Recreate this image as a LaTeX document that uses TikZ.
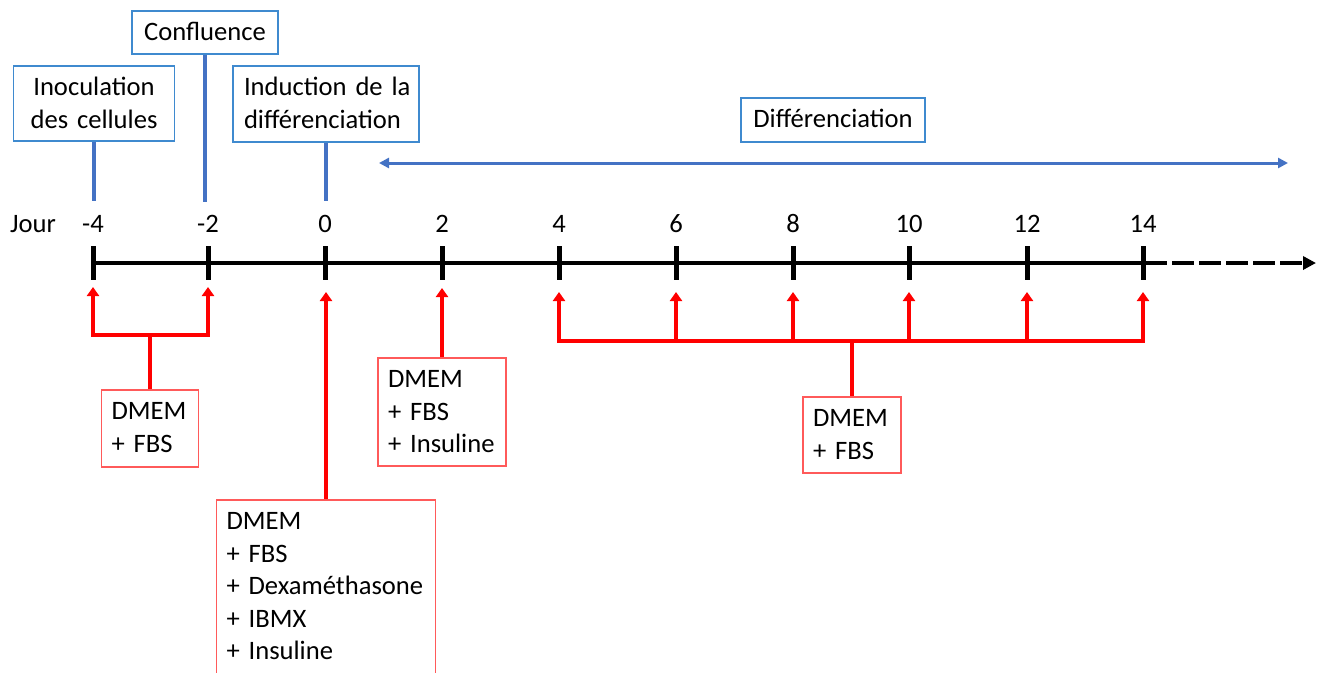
\documentclass[tikz,border=0pt]{standalone}
\usepackage{fontspec}
\setmainfont{Carlito}
\usetikzlibrary{arrows.meta}
\definecolor{stemblue}{HTML}{4472C4}
\definecolor{frameblue}{HTML}{3F8ACF}
\definecolor{framered}{HTML}{FF5A5A}
\definecolor{mediared}{HTML}{FF0000}

\begin{document}
\begin{tikzpicture}[x=1pt,y=-1pt,
  every node/.style={font=\fontsize{26.6}{32.5}\selectfont},
  stagebox/.style={draw=frameblue, line width=1.5pt, anchor=north, inner xsep=0pt,
    inner ysep=0pt, text height=30pt, align=center, fill=white},
  mediabox/.style={draw=framered, line width=1.5pt, anchor=north, inner xsep=10pt,
    inner ysep=0pt, text height=30pt, align=left, fill=white},
  stemline/.style={draw=stemblue, line width=4pt},
  spanline/.style={draw=stemblue, line width=3pt,
    {Triangle[width=10pt,length=10pt]}-{Triangle[width=10pt,length=10pt]}},
  axisline/.style={draw=black, line width=4.5pt},
  tickmark/.style={draw=black, line width=5pt},
  feedline/.style={draw=mediared, line width=3.5pt, line join=miter},
  feedarrow/.style={feedline, -{Triangle[width=12pt,length=9pt]}},
  daylabel/.style={anchor=base, inner sep=0pt}
]
\useasboundingbox (0,0) rectangle (1327,672);

% ---- time axis ----
\coordinate (axstart) at (91,263);
\coordinate (axsolid) at (1167,263);
\coordinate (axdash) at (1172,263);
\coordinate (axend) at (1316,263);
\draw[axisline] (axstart) -- (axsolid);
\draw[axisline, dash pattern=on 22pt off 5pt,
  -{Triangle[width=13pt,length=13pt]}] (axdash) -- (axend);

\node[anchor=base west, inner sep=0pt] (jour) at (10,232) {Jour};
\foreach \d/\x in {-4/93,-2/208,0/325,2/442,4/559,6/676,8/793,10/909,12/1027,14/1143}{
  \coordinate (t\d) at (\x,263);
  \coordinate (tt\d) at (\x,246);
  \coordinate (tb\d) at (\x,280);
  \draw[tickmark] (tt\d) -- (tb\d);
  \node[daylabel] (d\d) at (\x,232) {\d};
}

% ---- stages (blue) ----
\node[stagebox, text width=161pt, text depth=45pt] (inoc) at (94,65)
  {Inoculation\\des cellules};
\node[stagebox, text width=146pt, text depth=13pt] (conf) at (205,10) {Confluence};
\node[stagebox, inner xsep=11pt, align=left, text width=164pt, text depth=46pt] (induc)
  at (326,65) {\mbox{Induction de la}\\\mbox{différenciation}};
\node[stagebox, text width=184pt, text depth=14pt] (diff) at (833,97) {Différenciation};

\coordinate (s-4) at (94,201);
\coordinate (s-2) at (205,202);
\coordinate (s0) at (326,201);
\draw[stemline] (inoc.south) -- (s-4);
\draw[stemline] (conf.south) -- (s-2);
\draw[stemline] (induc.south) -- (s0);

\coordinate (spanl) at (379,163);
\coordinate (spanr) at (1288,163);
\draw[spanline] (spanl) -- (spanr);

% ---- culture media (red) ----
\node[mediabox, text width=77pt, text depth=47pt] (m1) at (150,389) {DMEM\\+ FBS};
\node[mediabox, text width=199pt, text depth=160pt] (m0) at (326,499)
  {DMEM\\+ FBS\\+ Dexaméthasone\\+ IBMX\\+ Insuline};
\node[mediabox, text width=108pt, text depth=78pt] (m2) at (442,357)
  {DMEM\\+ FBS\\+ Insuline};
\node[mediabox, text width=78pt, text depth=46pt] (m3) at (852,396) {DMEM\\+ FBS};

% days -4 and -2
\coordinate (a-4) at (93,287);
\coordinate (a-2) at (208,287);
\coordinate (j1) at (150,335);
\draw[feedline] (m1.north) -- (j1);
\draw[feedarrow] (j1) -| (a-4);
\draw[feedarrow] (j1) -| (a-2);

% day 0
\coordinate (a0) at (326,292);
\draw[feedarrow] (m0.north) -- (a0);

% day 2
\coordinate (a2) at (442,288);
\draw[feedarrow] (m2.north) -- (a2);

% days 4 to 14
\coordinate (j3) at (852,341);
\draw[feedline] (m3.north) -- (j3);
\foreach \d/\x in {4/559,6/676,8/793,10/909,12/1027,14/1143}{
  \coordinate (a\d) at (\x,292);
  \draw[feedarrow] (j3) -| (a\d);
}
\end{tikzpicture}
\end{document}
